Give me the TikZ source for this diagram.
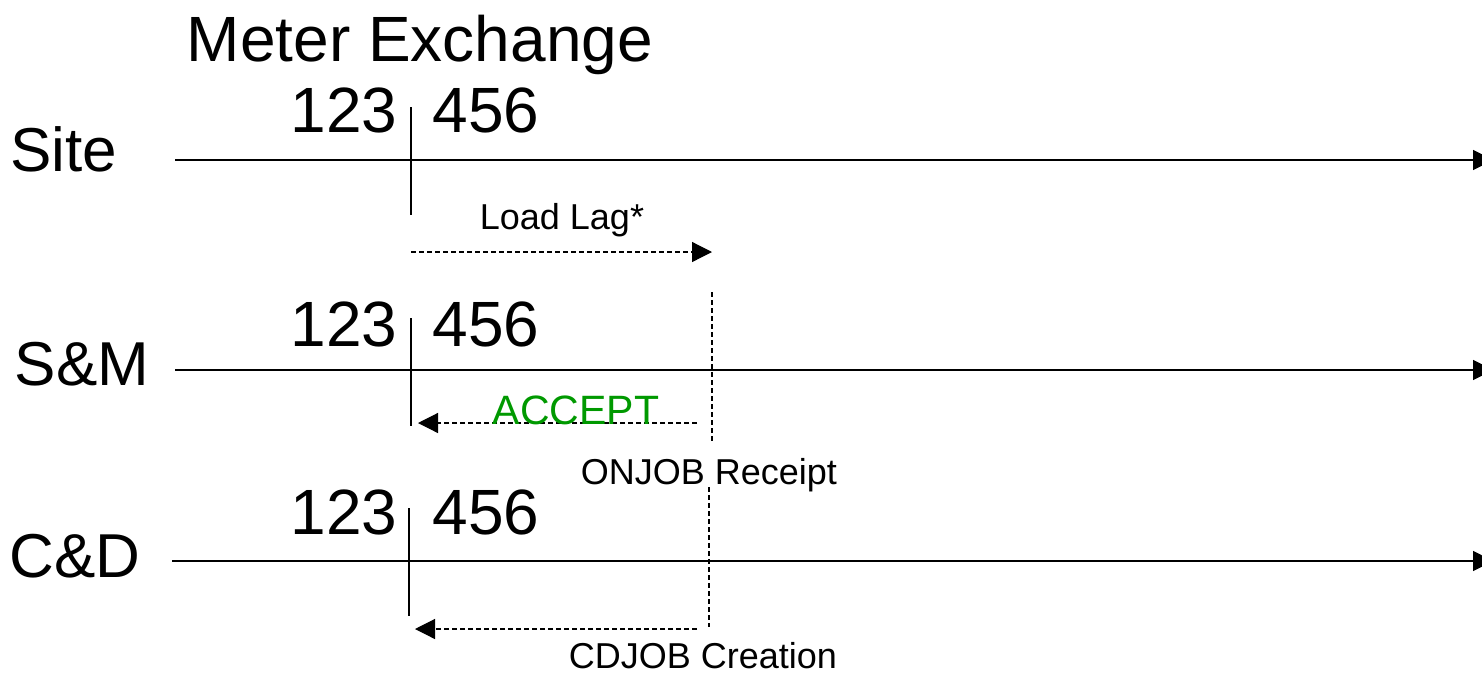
\documentclass[tikz,border=0pt]{standalone}
\usepackage{fontspec}
\setmainfont{Liberation Sans}
\usetikzlibrary{arrows.meta}

\begin{document}
\begin{tikzpicture}[x=0.5pt,y=-0.5pt,
    lane/.style={line width=0.9pt,-{Triangle[length=10pt,width=10pt]}},
    tick/.style={line width=0.7pt},
    lag/.style={line width=0.6pt,dash pattern=on 2.6pt off 1.4pt},
    lagarrow/.style={lag,-{Triangle[length=10pt,width=10pt]}},
    big/.style={font=\fontsize{32}{36}\selectfont,anchor=base,inner sep=0pt},
    lanename/.style={font=\fontsize{31}{35}\selectfont,anchor=base,inner sep=0pt},
    small/.style={font=\fontsize{18}{20}\selectfont,anchor=base,inner sep=0pt}]
    \useasboundingbox (0,0) rectangle (1482,675);

    % title
    \node[big] (title) at (420,61) {Meter Exchange};

    % lanes
    \node[lanename] (site) at (64,171) {Site};
    \node[lanename] (sm) at (82,385) {S\&M};
    \node[lanename] (cd) at (75,577) {C\&D};
    \coordinate (site-a) at (175,160);
    \coordinate (site-b) at (1493,160);
    \coordinate (sm-a) at (175,370);
    \coordinate (sm-b) at (1493,370);
    \coordinate (cd-a) at (172,561);
    \coordinate (cd-b) at (1493,561);
    \draw[lane] (site-a) -- (site-b);
    \draw[lane] (sm-a) -- (sm-b);
    \draw[lane] (cd-a) -- (cd-b);

    % meter numbers and exchange ticks
    \node[big] (site-old) at (344,132) {123};
    \node[big] (site-new) at (486,132) {456};
    \node[big] (sm-old) at (344,346) {123};
    \node[big] (sm-new) at (486,346) {456};
    \node[big] (cd-old) at (344,534) {123};
    \node[big] (cd-new) at (486,534) {456};
    \coordinate (site-t1) at (411,107);
    \coordinate (site-t2) at (411,215);
    \coordinate (sm-t1) at (411,318);
    \coordinate (sm-t2) at (411,426);
    \coordinate (cd-t1) at (409,508);
    \coordinate (cd-t2) at (409,616);
    \draw[tick] (site-t1) -- (site-t2);
    \draw[tick] (sm-t1) -- (sm-t2);
    \draw[tick] (cd-t1) -- (cd-t2);

    % load lag
    \node[small] (loadlag) at (562,229) {Load Lag*};
    \coordinate (lag-a) at (411,252);
    \coordinate (lag-b) at (712,252);
    \draw[lagarrow] (lag-a) -- (lag-b);

    % onjob receipt
    \coordinate (on-top) at (712,292);
    \coordinate (on-bot) at (712,443);
    \draw[lag] (on-top) -- (on-bot);
    \coordinate (acc-a) at (697,423);
    \coordinate (acc-b) at (418,423);
    \draw[lagarrow] (acc-a) -- (acc-b);
    \node[font=\fontsize{20.5}{23}\selectfont,anchor=base,inner sep=0pt,text={rgb,255:red,0;green,153;blue,0}] (accept) at (576,424) {ACCEPT};
    \node[small] (onjob) at (709,484) {ONJOB Receipt};

    % cdjob creation
    \coordinate (cdj-top) at (709,487);
    \coordinate (cdj-bot) at (709,627);
    \draw[lag] (cdj-top) -- (cdj-bot);
    \coordinate (cdj-a) at (697,629);
    \coordinate (cdj-b) at (415,629);
    \draw[lagarrow] (cdj-a) -- (cdj-b);
    \node[small] (cdjob) at (703,668) {CDJOB Creation};
\end{tikzpicture}
\end{document}
